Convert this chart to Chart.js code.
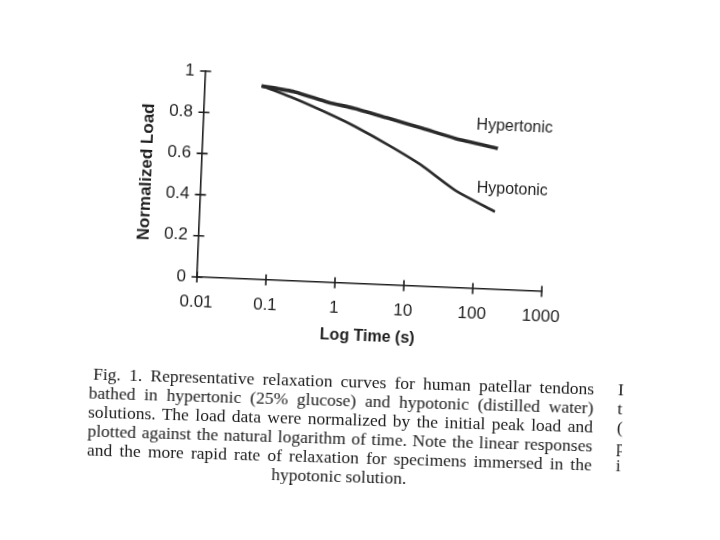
<!DOCTYPE html>
<html>
<head>
<meta charset="utf-8">
<script src="https://cdn.jsdelivr.net/npm/chart.js@4.4.0/dist/chart.umd.min.js"></script>
<style>
  html, body { margin: 0; padding: 0; background: #fff; }
  body { width: 720px; height: 540px; position: relative; overflow: hidden; }
  /* the scanned page is a little crooked, so the figure is turned slightly */
  #fig { position: absolute; left: 0; top: 0; width: 720px; height: 540px;
         transform: rotate(2.4deg); transform-origin: 197px 277px; }
  #caption { position: absolute; left: 88px; top: 372px; width: 505px;
             font-family: "Liberation Serif", "Times New Roman", serif; font-size: 17.5px;
             line-height: 19px; color: #1a1a1a;
             transform: rotate(1.7deg); transform-origin: 252px 48px; }
  #caption .ln { text-align: justify; text-align-last: justify; }
  #caption .ln.first { text-indent: 4px; }
  #caption .ln.last { text-align: center; text-align-last: center; }
  #frag { position: absolute; left: 529px; top: 0; width: 6px; overflow: hidden; white-space: nowrap; }
</style>
</head>
<body>
<div id="fig"><canvas id="relaxChart" width="720" height="540"></canvas></div>
<div id="caption">
  <div class="ln first">Fig. 1. Representative relaxation curves for human patellar tendons</div>
  <div class="ln">bathed in hypertonic (25% glucose) and hypotonic (distilled water)</div>
  <div class="ln">solutions. The load data were normalized by the initial peak load and</div>
  <div class="ln">plotted against the natural logarithm of time. Note the linear responses</div>
  <div class="ln">and the more rapid rate of relaxation for specimens immersed in the</div>
  <div class="ln last">hypotonic solution.</div>
  <div id="frag"><div>I</div><div>t</div><div>(</div><div>p</div><div>i</div></div>
</div>
<script>
// values
const seriesNames = ["Hypertonic", "Hypotonic"];
const hyperTime = [0.066, 0.2, 0.62, 1.5, 4.7, 15, 45, 190];
const hyperLoad = [0.94, 0.918, 0.874, 0.85, 0.809, 0.767, 0.725, 0.685];
const hypoTime = [0.066, 0.2, 0.8, 1.6, 4.9, 15, 48, 188];
const hypoLoad = [0.94, 0.886, 0.806, 0.761, 0.679, 0.589, 0.474, 0.377];

const xTicks = [0.01, 0.1, 1, 10, 100, 1000];
const xTickLabels = ["0.01", "0.1", "1", "10", "100", "1000"];
const yTicks = [0, 0.2, 0.4, 0.6, 0.8, 1];
const yTickLabels = ["0", "0.2", "0.4", "0.6", "0.8", "1"];

// where the curve names sit, in data units (time, load)
const labelAnchors = [[90, 0.794], [99, 0.487]];

const ink = "#1e1e1e";
const sans = '"Liberation Sans", Arial, sans-serif';

const toPoints = (xs, ys) => xs.map((x, i) => ({ x: x, y: ys[i] }));

// tick marks that cross the axis lines, plus the curve names
const crossTicks = {
  id: "crossTicks",
  afterDraw(chart) {
    const { ctx, chartArea, scales: { x, y } } = chart;
    ctx.save();
    ctx.strokeStyle = ink;
    ctx.lineWidth = 1.6;
    ctx.beginPath();
    yTicks.forEach((v) => {
      const py = y.getPixelForValue(v);
      ctx.moveTo(chartArea.left - 5.5, py);
      ctx.lineTo(chartArea.left + 5.5, py);
    });
    xTicks.forEach((v) => {
      const px = x.getPixelForValue(v);
      ctx.moveTo(px, chartArea.bottom - 5.5);
      ctx.lineTo(px, chartArea.bottom + 5.5);
    });
    ctx.stroke();

    ctx.fillStyle = ink;
    ctx.font = "16px " + sans;
    ctx.textAlign = "left";
    ctx.textBaseline = "middle";
    seriesNames.forEach((name, i) => {
      ctx.fillText(name, x.getPixelForValue(labelAnchors[i][0]), y.getPixelForValue(labelAnchors[i][1]));
    });
    ctx.restore();
  },
};

const ctx = document.getElementById("relaxChart").getContext("2d");
new Chart(ctx, {
  type: "line",
  data: {
    datasets: [
      {
        label: seriesNames[0],
        data: toPoints(hyperTime, hyperLoad),
        borderColor: "#2a2a2a",
        borderWidth: 3.6,
        pointRadius: 0,
        tension: 0.2,
      },
      {
        label: seriesNames[1],
        data: toPoints(hypoTime, hypoLoad),
        borderColor: "#2a2a2a",
        borderWidth: 2.6,
        pointRadius: 0,
        tension: 0.2,
      },
    ],
  },
  options: {
    responsive: false,
    animation: false,
    devicePixelRatio: 1,
    layout: {
      padding: { left: 120, top: 71, right: 178, bottom: 193 },
    },
    plugins: {
      legend: { display: false },
      tooltip: { enabled: false },
    },
    scales: {
      x: {
        type: "logarithmic",
        min: 0.01,
        max: 1000,
        afterBuildTicks: (scale) => {
          scale.ticks = xTicks.map((v) => ({ value: v }));
        },
        afterFit: (scale) => {
          scale.height = 70;
        },
        grid: { display: false, drawTicks: false },
        border: { display: true, color: ink, width: 1.6 },
        ticks: {
          autoSkip: false,
          maxRotation: 0,
          padding: 15,
          color: ink,
          font: { family: sans, size: 17 },
          callback: (value, index) => xTickLabels[index],
        },
        title: {
          display: true,
          text: "Log Time (s)",
          color: ink,
          font: { family: sans, size: 16, weight: "bold" },
          padding: { top: 0, bottom: 8 },
        },
      },
      y: {
        type: "linear",
        min: 0,
        max: 1,
        afterBuildTicks: (scale) => {
          scale.ticks = yTicks.map((v) => ({ value: v }));
        },
        afterFit: (scale) => {
          scale.width = 77;
        },
        grid: { display: false, drawTicks: false },
        border: { display: true, color: ink, width: 1.6 },
        ticks: {
          padding: 11,
          color: ink,
          font: { family: sans, size: 17 },
          callback: (value, index) => yTickLabels[index],
        },
        title: {
          display: true,
          text: "Normalized Load",
          color: ink,
          font: { family: sans, size: 17, weight: "bold" },
          padding: { top: 12, bottom: 0 },
        },
      },
    },
  },
  plugins: [crossTicks],
});
</script>
</body>
</html>
